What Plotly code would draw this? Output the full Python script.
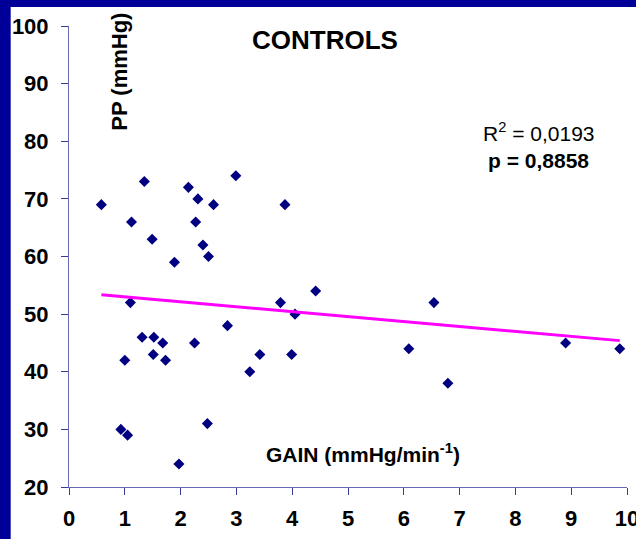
import plotly.graph_objects as go

gain = [0.58, 1.35, 1.12, 1.49, 1.89, 2.14, 2.31, 2.27, 2.59, 2.40, 2.50, 2.99, 3.87,
        1.10, 1.00, 1.31, 1.52, 1.51, 1.68, 1.73, 0.93, 1.05, 1.97, 2.48, 2.25, 2.84,
        3.24, 3.42, 3.79, 4.05, 3.99, 4.42, 6.54, 6.09, 6.79, 8.90, 9.87]
pp = [69, 73, 66, 63, 59, 72, 70, 66, 69, 62, 60, 74, 69,
      52, 42, 46, 46, 43, 45, 42, 30, 29, 24, 31, 45, 48,
      40, 43, 52, 50, 43, 54, 52, 44, 38, 45, 44]
trend_x = [0.58, 9.87]
trend_y = [53.35, 45.4]
x_ticks = list(range(0, 11))
y_ticks = list(range(20, 101, 10))

FONT = "Liberation Sans, Arial, sans-serif"
NAVY = "#000080"
BLUE_BG = "#000099"

fig = go.Figure()
fig.add_trace(go.Scatter(x=gain, y=pp, mode="markers",
                         marker=dict(symbol="diamond", size=8.5, color=NAVY,
                                     line=dict(width=0)),
                         showlegend=False, hoverinfo="skip"))
fig.add_trace(go.Scatter(x=trend_x, y=trend_y, mode="lines",
                         line=dict(color="#ff00ff", width=3),
                         showlegend=False, hoverinfo="skip"))

axis_common = dict(showgrid=False, zeroline=False, showline=True,
                   linecolor="#6a6ab4", linewidth=1, ticks="outside",
                   ticklen=7, tickwidth=1, tickcolor="#3a3a9a",
                   ticklabeloverflow="allow", automargin=False,
                   tickfont=dict(family=FONT, size=22, color="black", weight="bold"))

fig.update_xaxes(range=[0, 10], tickvals=x_ticks, ticklabelstandoff=5, **axis_common)
fig.update_yaxes(range=[20, 100], tickvals=y_ticks, ticklabelstandoff=8, **axis_common)

fig.add_shape(type="rect", xref="paper", yref="paper",
              x0=-0.1045, x1=1.03, y0=-0.13, y1=1.0412,
              fillcolor="white", line=dict(width=0), layer="below")

ann = []
ann.append(dict(x=4.58, y=97.6, xref="x", yref="y", text="CONTROLS", showarrow=False,
                font=dict(family=FONT, size=26, color="black", weight="bold"),
                xanchor="center", yanchor="middle"))
ann.append(dict(x=0.89, y=92.0, xref="x", yref="y", text="PP (mmHg)", showarrow=False,
                textangle=-90,
                font=dict(family=FONT, size=22, color="black", weight="bold"),
                xanchor="center", yanchor="middle"))
ann.append(dict(x=8.42, y=81.6, xref="x", yref="y", text="R<sup>2</sup> = 0,0193", showarrow=False,
                font=dict(family=FONT, size=21, color="black"),
                xanchor="center", yanchor="middle"))
ann.append(dict(x=8.42, y=76.6, xref="x", yref="y", text="<b>p = 0,8858</b>", showarrow=False,
                font=dict(family=FONT, size=21, color="black"),
                xanchor="center", yanchor="middle"))
ann.append(dict(x=5.26, y=25.9, xref="x", yref="y", text="GAIN (mmHg/min<sup>-1</sup>)",
                showarrow=False,
                font=dict(family=FONT, size=21, color="black", weight="bold"),
                xanchor="center", yanchor="middle"))

fig.update_layout(width=636, height=539,
                  margin=dict(l=69.3, r=9, t=26, b=52, pad=0, autoexpand=False),
                  paper_bgcolor=BLUE_BG, plot_bgcolor="white",
                  annotations=ann, showlegend=False)

fig.write_html("out.html", config={"displayModeBar": False})
